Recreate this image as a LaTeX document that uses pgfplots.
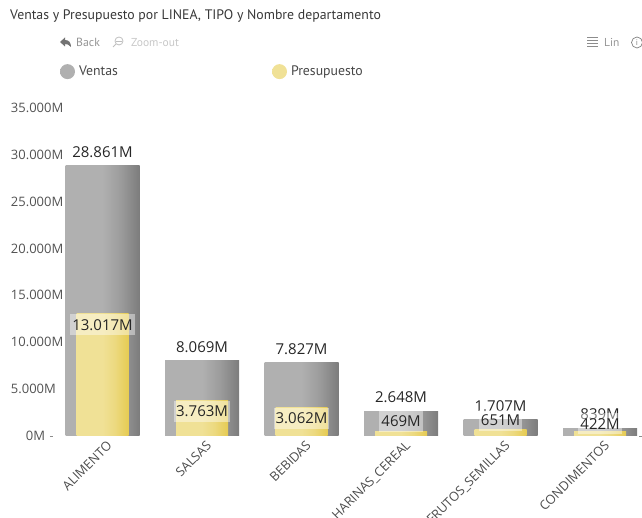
\documentclass[border=0pt]{standalone}
\usepackage{fontspec}
\usepackage{pgfplots}
\pgfplotsset{compat=1.18}
\setmainfont{Open Sans}
\newfontfamily\din{PT Sans}
\definecolor{gA}{HTML}{B0B0B0}
\definecolor{gB}{HTML}{9C9C9C}
\definecolor{gC}{HTML}{7C7C7C}
\definecolor{yA}{HTML}{F0E196}
\definecolor{yB}{HTML}{ECD97F}
\definecolor{yC}{HTML}{E6CB52}
\pgfdeclarehorizontalshading{ventasgrad}{100bp}{color(0bp)=(gA); color(25bp)=(gA); color(50bp)=(gA); color(62bp)=(gB); color(75bp)=(gC); color(100bp)=(gC)}
\pgfdeclarehorizontalshading{presgrad}{100bp}{color(0bp)=(yA); color(25bp)=(yA); color(50bp)=(yA); color(62bp)=(yB); color(75bp)=(yC); color(100bp)=(yC)}
\pgfdeclarehorizontalshading{flatg}{100bp}{color(0bp)=(gA); color(100bp)=(gA)}
\pgfdeclarehorizontalshading{flaty}{100bp}{color(0bp)=(yA); color(100bp)=(yA)}
\pgfplotsset{
  ventas/.style={ybar,bar width=74pt,draw=none,shading=ventasgrad,
    point meta=explicit symbolic,nodes near coords,
    nodes near coords style={anchor=center,yshift=13.5pt,text=black!85,font=\fontsize{15}{17}\selectfont,inner sep=0pt},
    legend image code/.code={\path[draw=none,shading=flatg] (0pt,0pt) circle (7.5pt);}},
  pres/.style={ybar,bar width=52pt,draw=none,shading=presgrad,
    legend image code/.code={\path[draw=none,shading=flaty] (0pt,0pt) circle (7.5pt);}},
}
\begin{document}
\begin{tikzpicture}[x=1pt,y=1pt]
\path[use as bounding box,clip] (0,0) rectangle (642,518);
% title and toolbar
\node[anchor=west,inner sep=0pt,text=black!78,font=\din\fontsize{13.8}{15}\selectfont] at (10,501.5) {Ventas y Presupuesto por LINEA, TIPO y Nombre departamento};
\node[anchor=west,inner sep=0pt,text=black!42,font=\din\fontsize{11.8}{13}\selectfont] at (76,475.5) {Back};
\node[anchor=west,inner sep=0pt,text=black!22,font=\din\fontsize{11.5}{13}\selectfont] at (131,475.5) {Zoom-out};
\node[anchor=west,inner sep=0pt,text=black!42,font=\din\fontsize{11.5}{13}\selectfont] at (604,475.5) {Lin};
\fill[black!55] (60,476) -- (65,480.5) -- (65,478) .. controls (69,478) and (71,475.5) .. (71,471) .. controls (69,473.5) and (67,474) .. (65,474) -- (65,471.5) -- cycle;
\draw[black!25,line width=0.8pt] (119,477) circle (4pt) (116,474) -- (113,471);
\draw[black!25,line width=0.7pt] (116,477) -- (122,477) ;
\draw[black!45,line width=0.7pt] (587,480.5) -- (598,480.5) (587,477.5) -- (598,477.5) (587,474.5) -- (598,474.5) (587,471.5) -- (598,471.5);
\draw[black!50,line width=0.7pt] (637,475.5) circle (5.5pt);
\node[text=black!50,inner sep=0pt,font=\din\fontsize{8}{9}\selectfont] at (637,475.5) {i};
\begin{axis}[
  at={(50,87.5)},anchor=south west,
  scale only axis,width=592pt,height=328.2pt,
  xmin=-0.5306,xmax=5.419,ymin=0,ymax=35000,
  scaled y ticks=false,
  axis line style={draw=none},
  major tick style={draw=none},
  xtick={0,1,2,3,4,5},
  xticklabels={ALIMENTO,SALSAS,BEBIDAS,HARINAS\_CEREAL,FRUTOS\_SEMILLAS,CONDIMENTOS},
  xticklabel style={rotate=45,anchor=north east,inner sep=0pt,text=black!70,font=\fontsize{12.8}{14}\selectfont,yshift=-2pt,xshift=3pt},
  ytick={0,5000,10000,15000,20000,25000,30000,35000},
  yticklabels={\hspace*{15pt}0M,5.000M,10.000M,15.000M,20.000M,25.000M,30.000M,35.000M},
  yticklabel style={anchor=west,text=black!68,font=\fontsize{13}{15}\selectfont,inner sep=0pt,xshift=-39pt},
  extra y ticks={0},extra y tick labels={},
  extra y tick style={major tick style={draw=black!45,thin},major tick length=3pt,tick align=inside},
  clip=false,
  legend style={draw=none,fill=none,at={(0.017,1.11)},anchor=west,legend columns=2,
    font=\din\fontsize{13.8}{15}\selectfont,text=black!72,inner sep=0pt,
    /tikz/every odd column/.append style={column sep=2pt}},
  legend cell align=left,
  ybar,bar shift=0pt,
]
\addplot[ventas] coordinates {(0,28861)[28.861M]};
\addlegendentry{\makebox[191pt][l]{Ventas}}
\addplot[ventas,forget plot] coordinates {(1,8069)[8.069M]};
\addplot[ventas,forget plot] coordinates {(2,7827)[7.827M]};
\addplot[ventas,forget plot] coordinates {(3,2648)[2.648M]};
\addplot[ventas,forget plot] coordinates {(4,1707)[1.707M]};
\addplot[ventas,forget plot] coordinates {(5,839)[839M]};
\addplot[pres] coordinates {(0,13017)};
\addlegendentry{Presupuesto}
\addplot[pres,forget plot] coordinates {(1,3763)};
\addplot[pres,forget plot] coordinates {(2,3062)};
\addplot[pres,forget plot] coordinates {(3,469)};
\addplot[pres,forget plot] coordinates {(4,651)};
\addplot[pres,forget plot] coordinates {(5,422)};
\addplot[forget plot,draw=none,mark=none,
  point meta=explicit symbolic,
  nodes near coords,
  nodes near coords style={anchor=center,fill=white,fill opacity=0.42,text opacity=1,text=black!85,font=\fontsize{15}{17}\selectfont,inner xsep=2pt,inner ysep=0pt,minimum height=21pt},
] table[x=x,y=py,meta=pl,row sep=\\] {
x py pl\\
0 11834 13.017M\\
1 2612 3.763M\\
2 1866 3.062M\\
3 1546 469M\\
4 1650 651M\\
5 1294 422M\\
};
\end{axis}
\end{tikzpicture}
\end{document}
